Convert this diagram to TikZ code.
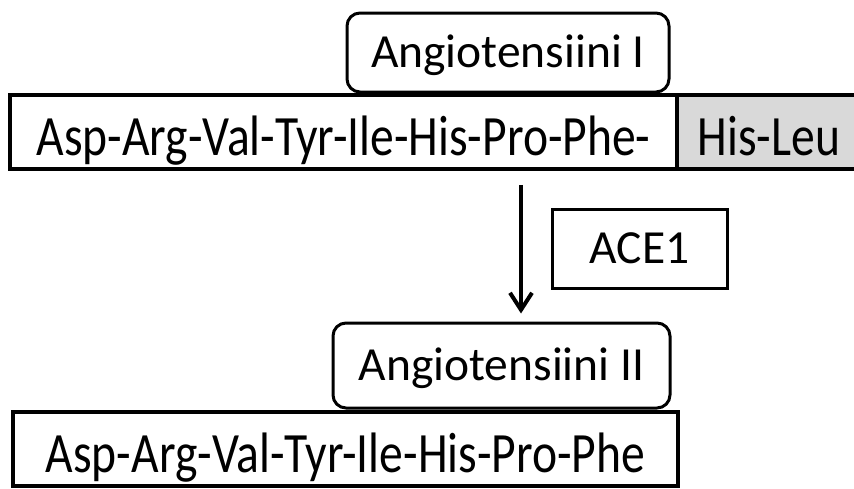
\documentclass[tikz,border=0pt]{standalone}
\usepackage{fontspec}
\setmainfont{Carlito}
\newfontfamily\barfont{Carlito}[FakeStretch=0.835]
\usetikzlibrary{arrows.meta,calc}
\definecolor{leugray}{RGB}{217,217,217}
\tikzset{
  x=1pt,y=1pt,
  nametxt/.style={font=\fontsize{47.5}{50}\selectfont, inner sep=0pt, text=black, text height=30.6pt, text depth=0pt},
  bartxt/.style={font=\barfont\fontsize{57}{60}\selectfont, inner sep=0pt, text=black, text height=47pt, text depth=0pt},
  namebox/.style={nametxt, draw, line width=3pt, rounded corners=13pt, fill=white},
  barbox/.style={bartxt, draw, line width=3.5pt, fill=white},
  enzbox/.style={nametxt, draw, line width=3pt, fill=white},
  conv/.style={line width=4pt, -{Straight Barb[length=17pt,width=22pt,line width=4pt]}}
}
\begin{document}
\begin{tikzpicture}
\useasboundingbox (0,0) rectangle (854,-488);
\node[barbox, minimum width=183pt, minimum height=74pt, fill=leugray] (leu) at (769,-132) {His-Leu};
\node[barbox, minimum width=667pt, minimum height=74pt] (bar1) at (343.5,-132) {Asp-Arg-Val-Tyr-Ile-His-Pro-Phe-};
\node[namebox, minimum width=322pt, minimum height=79pt] (angI) at (508,-52.5) {Angiotensiini I};
\node[enzbox, minimum width=175pt, minimum height=79pt] (ace) at (639.5,-248.5) {ACE1};
\node[barbox, minimum width=665pt, minimum height=74pt] (bar2) at (345.5,-449) {Asp-Arg-Val-Tyr-Ile-His-Pro-Phe\hspace{12pt}};
\node[namebox, minimum width=337pt, minimum height=85pt] (angII) at (501.5,-365.5) {Angiotensiini II};
\coordinate (ax) at (521,0);
\draw[conv] ([yshift=-14pt]bar1.south -| ax) -- ([yshift=8pt]angII.north -| ax);
\end{tikzpicture}
\end{document}
